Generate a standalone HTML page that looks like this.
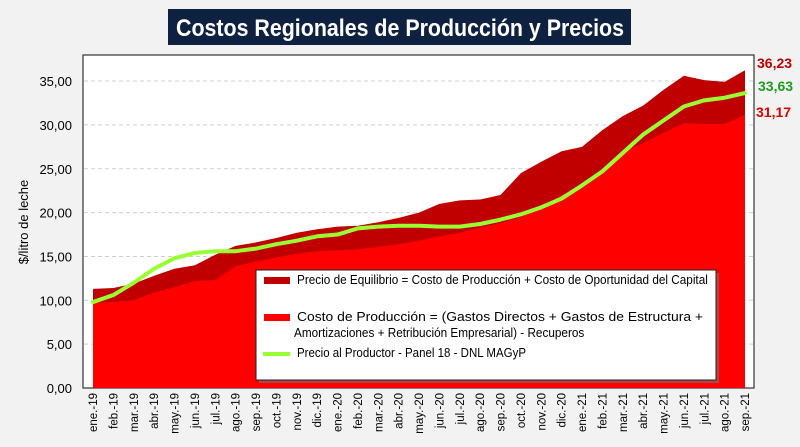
<!DOCTYPE html>
<html><head><meta charset="utf-8"><style>
html,body{margin:0;padding:0;background:#f2f2f2;width:800px;height:447px;overflow:hidden;position:relative}
svg{display:block;font-family:"Liberation Sans",sans-serif}
.lg{position:absolute;font-family:"Liberation Sans",sans-serif;font-size:12.5px;line-height:15px;white-space:nowrap;color:#000;transform-origin:0 0}
</style></head><body>
<svg id="chart" width="800" height="447" viewBox="0 0 800 447">
<rect x="0" y="0" width="800" height="447" fill="#f2f2f2"/>
<rect x="168" y="9" width="463" height="36" fill="#0f2140"/>
<text x="400" y="36" text-anchor="middle" fill="#fff" font-size="24" font-weight="bold" textLength="448" lengthAdjust="spacingAndGlyphs">Costos Regionales de Producción y Precios</text>
<rect x="83" y="55" width="671" height="333" fill="#fff" stroke="#333" stroke-width="1.2"/>
<g id="grid"></g>
<g id="marks"></g>
<g id="axes"></g>
<text transform="translate(28,222) rotate(-90)" text-anchor="middle" font-size="13" fill="#000">$/litro de leche</text>
<g>
<rect x="259" y="273" width="460" height="110" fill="#777" opacity="0.6"/>
<rect x="256" y="270" width="460" height="110" fill="#fff" stroke="#222" stroke-width="1"/>
<rect x="264" y="277" width="26" height="7" fill="#c00000"/>
<rect x="264" y="314" width="26" height="7" fill="#ff0000"/>
<line x1="263" y1="354" x2="290" y2="354" stroke="#99ff33" stroke-width="4"/>
</g>
<text x="757" y="68" font-size="14" font-weight="bold" fill="#c00000">36,23</text>
<text x="758" y="91" font-size="14" font-weight="bold" fill="#1f9a1f">33,63</text>
<text x="756" y="117" font-size="14" font-weight="bold" fill="#e00000">31,17</text>
</svg>
<div class="lg" style="left:297px;top:273px;transform:scaleX(0.94)">Precio de Equilibrio = Costo de Producción + Costo de Oportunidad del Capital</div>
<div class="lg" style="left:297px;top:310px;transform:scaleX(1.11)">Costo de Producción = (Gastos Directos + Gastos de Estructura +</div>
<div class="lg" style="left:294px;top:326px;transform:scaleX(0.94)">Amortizaciones + Retribución Empresarial) - Recuperos</div>
<div class="lg" style="left:297px;top:346px;transform:scaleX(0.92)">Precio al Productor - Panel 18 - DNL MAGyP</div>
<script>
const categories=["ene.-19","feb.-19","mar.-19","abr.-19","may.-19","jun.-19","jul.-19","ago.-19","sep.-19","oct.-19","nov.-19","dic.-19","ene.-20","feb.-20","mar.-20","abr.-20","may.-20","jun.-20","jul.-20","ago.-20","sep.-20","oct.-20","nov.-20","dic.-20","ene.-21","feb.-21","mar.-21","abr.-21","may.-21","jun.-21","jul.-21","ago.-21","sep.-21"];
const equilibrio=[11.3,11.4,11.9,12.8,13.6,14.0,15.2,16.2,16.6,17.1,17.7,18.1,18.4,18.5,18.9,19.4,20.0,21.0,21.4,21.5,22.0,24.5,25.8,27.0,27.5,29.4,31.0,32.2,34.0,35.6,35.1,34.9,36.23];
const costo=[9.7,9.8,10.0,10.9,11.5,12.2,12.3,13.9,14.4,14.9,15.3,15.6,15.7,15.8,16.1,16.4,16.8,17.3,17.7,18.3,18.8,19.5,20.5,22.0,23.2,24.9,26.9,27.9,29.1,30.2,30.1,30.1,31.17];
const precio=[9.8,10.6,12.0,13.6,14.8,15.4,15.6,15.6,15.9,16.4,16.8,17.3,17.5,18.2,18.4,18.5,18.5,18.4,18.4,18.7,19.2,19.8,20.6,21.6,23.1,24.7,26.8,28.9,30.5,32.1,32.8,33.1,33.63];
const yTicks=[0,5,10,15,20,25,30,35];
const yTickLabels=["0,00","5,00","10,00","15,00","20,00","25,00","30,00","35,00"];
const NS="http://www.w3.org/2000/svg";
const x0=93,x1=745,yBase=388,pxPerUnit=8.77;
function xs(i){return x0+(x1-x0)*i/(categories.length-1);}
function ys(v){return yBase-v*pxPerUnit;}
function mk(tag,attrs,parent){const e=document.createElementNS(NS,tag);for(const k in attrs)e.setAttribute(k,attrs[k]);parent.appendChild(e);return e;}
const grid=document.getElementById('grid'),marks=document.getElementById('marks'),axes=document.getElementById('axes');
yTicks.forEach((t,i)=>{
  if(t>0){const g=mk('line',{x1:84,x2:753,y1:ys(t),y2:ys(t),stroke:'#cfcfcf','stroke-dasharray':'4,3'},grid);
  
  }
  const l=mk('text',{x:72,y:ys(t)+5,'text-anchor':'end','font-size':'13'},axes);
  l.textContent=yTickLabels[i];
  
  
});
function area(vals){let d='M'+xs(0)+','+yBase;vals.forEach((v,i)=>d+=' L'+xs(i)+','+ys(v));d+=' L'+xs(vals.length-1)+','+yBase+' Z';return d;}
const a1=mk('path',{d:area(equilibrio),fill:'#c00000'},marks);


const a2=mk('path',{d:area(costo),fill:'#ff0000'},marks);


let pd='';precio.forEach((v,i)=>pd+=(i?' L':'M')+xs(i)+','+ys(v));
const ln=mk('path',{d:pd,fill:'none',stroke:'#99ff33','stroke-width':4,'stroke-linejoin':'round','stroke-linecap':'round'},marks);


categories.forEach((c,i)=>{
  const t=mk('text',{transform:'translate('+(xs(i)+4)+',393) rotate(-90)','text-anchor':'end','font-size':'11.5'},axes);
  t.textContent=c;
  
  
});
</script>
</body></html>
